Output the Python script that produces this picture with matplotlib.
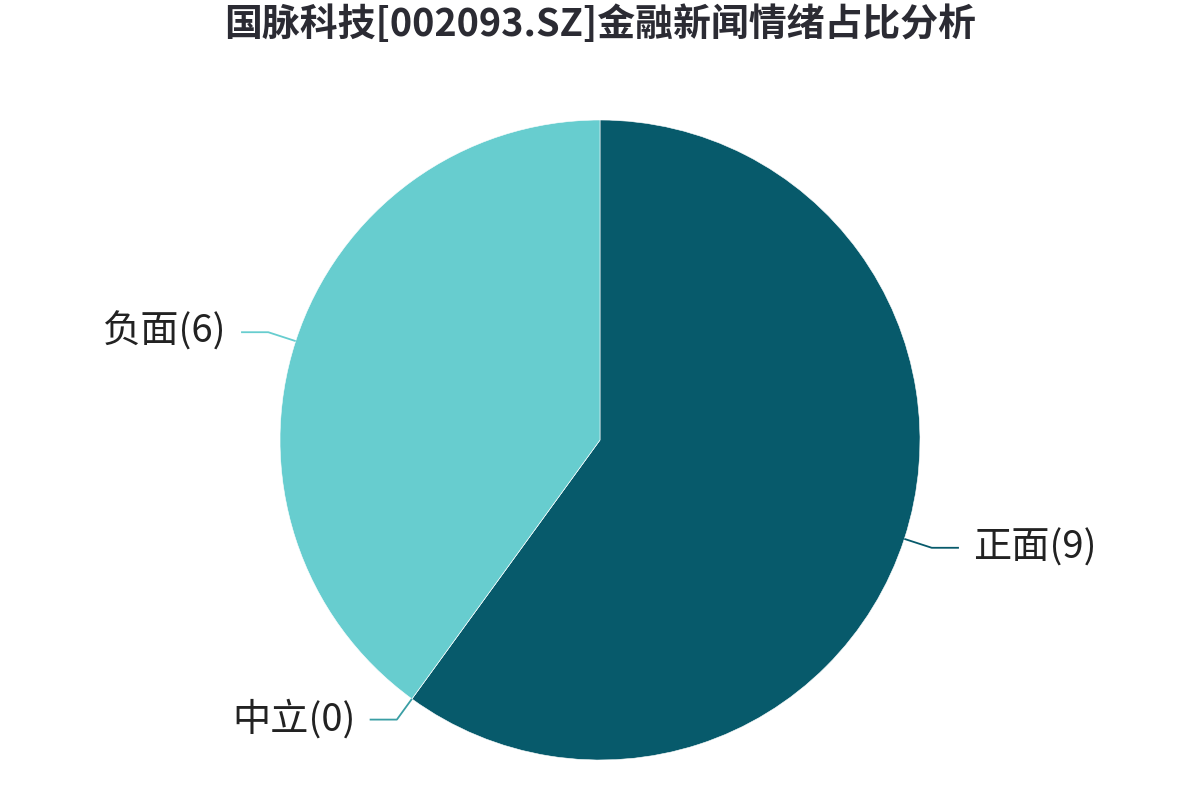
import numpy as np
import matplotlib.pyplot as plt

plt.rcParams['font.family'] = ['Noto Sans CJK SC', 'DejaVu Sans']

# data
labels = ['正面', '中立', '负面']
values = [9, 0, 6]
colors = ['#075a6b', '#3a9ea4', '#67cdcf']
title = '国脉科技[002093.SZ]金融新闻情绪占比分析'

fig = plt.figure(figsize=(12, 8), dpi=100)
ax = fig.add_axes([0, 0, 1, 1])
R = 320.0

ax.pie(values, colors=colors, startangle=90, counterclock=False, radius=1,
       wedgeprops=dict(edgecolor='white', linewidth=0.4))

# leader lines + labels
total = float(sum(values))
start = 90.0
for lab, v, c in zip(labels, values, colors):
    span = 360.0 * v / total
    mid = np.deg2rad(start - span / 2)
    start -= span
    x0, y0 = np.cos(mid), np.sin(mid)
    rr = 1.09 if v > 0 else 1.08
    x1, y1 = rr * x0, rr * y0
    side = 1 if x0 >= 0 else -1
    x2 = x1 + side * 0.085
    ax.plot([x0, x1, x2], [y0, y1, y1], color=c, lw=1.3, solid_capstyle='butt')
    ax.text(x2 + side * 0.045, y1, '%s(%d)' % (lab, v), fontsize=27.5,
            color='#222222', ha='left' if side > 0 else 'right', va='center')

ax.set_xlim(-600 / R, 600 / R)
ax.set_ylim(-360 / R, 440 / R)
ax.set_aspect('equal')
ax.axis('off')

fig.text(0.5, 1 - 24 / 800, title, fontsize=27.3, fontweight='bold',
         color='#2b2b33', ha='center', va='center')

fig.savefig('out.png', dpi=100, facecolor='white')
